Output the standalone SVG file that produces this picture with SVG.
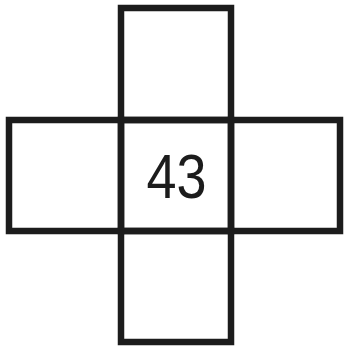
<svg xmlns="http://www.w3.org/2000/svg" width="344" height="346" viewBox="0 0 344 346">
<style>
.box{fill:none;stroke:#1c1c1c;stroke-width:6.5;stroke-linejoin:miter}
.num{font-family:"Liberation Sans",Arial,sans-serif;font-size:63px;fill:#1c1c1c;text-anchor:middle}
</style>
<rect width="344" height="346" fill="#ffffff"/>
<g id="top"><rect class="box" x="121" y="8" width="110" height="112"/></g>
<g id="left"><rect class="box" x="9" y="120" width="112" height="111"/></g>
<g id="center"><rect class="box" x="121" y="120" width="110" height="111"/><text class="num" x="176.5" y="198" textLength="60" lengthAdjust="spacingAndGlyphs">43</text></g>
<g id="right"><rect class="box" x="231" y="120" width="109" height="111"/></g>
<g id="bottom"><rect class="box" x="121" y="231" width="110" height="111"/></g>
<g id="connectors"></g>
</svg>
